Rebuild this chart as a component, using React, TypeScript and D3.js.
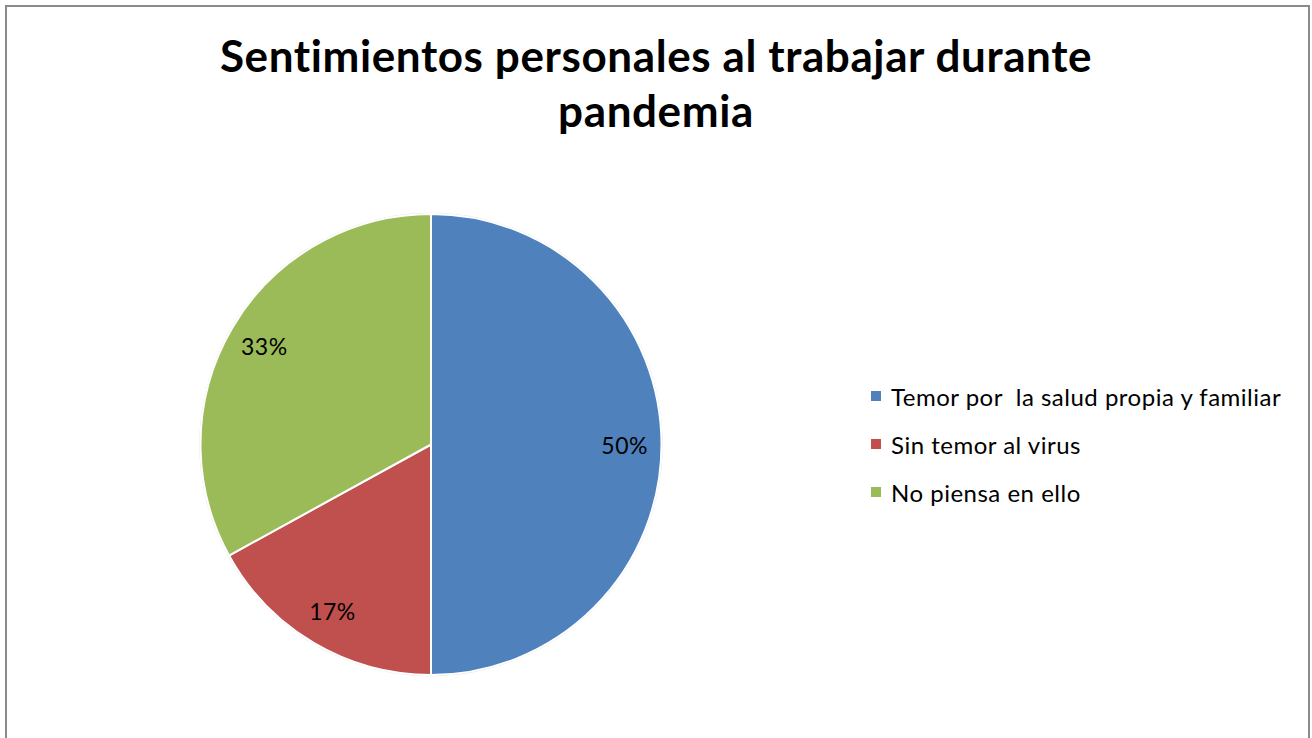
import React from "react";
import * as d3 from "d3";

const categories = ["Temor por  la salud propia y familiar", "Sin temor al virus", "No piensa en ello"];
const values = [50, 17, 33];
const labels = ["50%", "17%", "33%"];
const colors = ["#4F81BD", "#C0504D", "#9BBB59"];
const titleLines = ["Sentimientos personales al trabajar durante", "pandemia"];

export default function App() {
  const W = 1312, H = 738;
  const cx = 431, cy = 444.5, r = 230.5;
  const pie = d3.pie<number>().sort(null).value((d) => d)(values);
  const arc = d3.arc<d3.PieArcDatum<number>>().innerRadius(0).outerRadius(r);
  const labelArc = d3.arc<d3.PieArcDatum<number>>().innerRadius(r * 0.84).outerRadius(r * 0.84);
  const font = "Lato, 'Open Sans', sans-serif";
  return (
    <svg width={W} height={H} style={{ position: "absolute", left: 0, top: 0 }}>
      <rect x={0} y={0} width={W} height={H} fill="#fff" />
      <path d={`M6,${H} V6 H1309 V${H}`} fill="none" stroke="#8a8a8a" strokeWidth={2} />
      {titleLines.map((t, i) => (
        <text key={i} x={656} y={72 + i * 55} textAnchor="middle" fontFamily={font} fontWeight="bold" fontSize={44} letterSpacing={0.6} fill="#000">
          {t}
        </text>
      ))}
      <circle cx={cx} cy={cy} r={r + 1.2} fill="#e2e2e2" />
      <g transform={`translate(${cx},${cy})`}>
        {pie.map((p, i) => (
          <path key={i} d={arc(p) || ""} fill={colors[i]} stroke="#fff" strokeWidth={2} strokeLinejoin="round" />
        ))}
        {pie.map((p, i) => {
          const [x, y] = labelArc.centroid(p);
          return (
            <text key={i} x={x} y={y} textAnchor="middle" dominantBaseline="central" fontFamily={font} fontSize={23} letterSpacing={0.5} fill="#000">
              {labels[i]}
            </text>
          );
        })}
      </g>
      {categories.map((c, i) => (
        <g key={i} transform={`translate(871,${396 + i * 48})`}>
          <rect x={0} y={-5} width={10} height={10} fill={colors[i]} />
          <text x={20} y={0} dominantBaseline="central" fontFamily={font} fontSize={24} letterSpacing={0.5} fill="#000" style={{ whiteSpace: "pre" }}>
            {c}
          </text>
        </g>
      ))}
    </svg>
  );
}
